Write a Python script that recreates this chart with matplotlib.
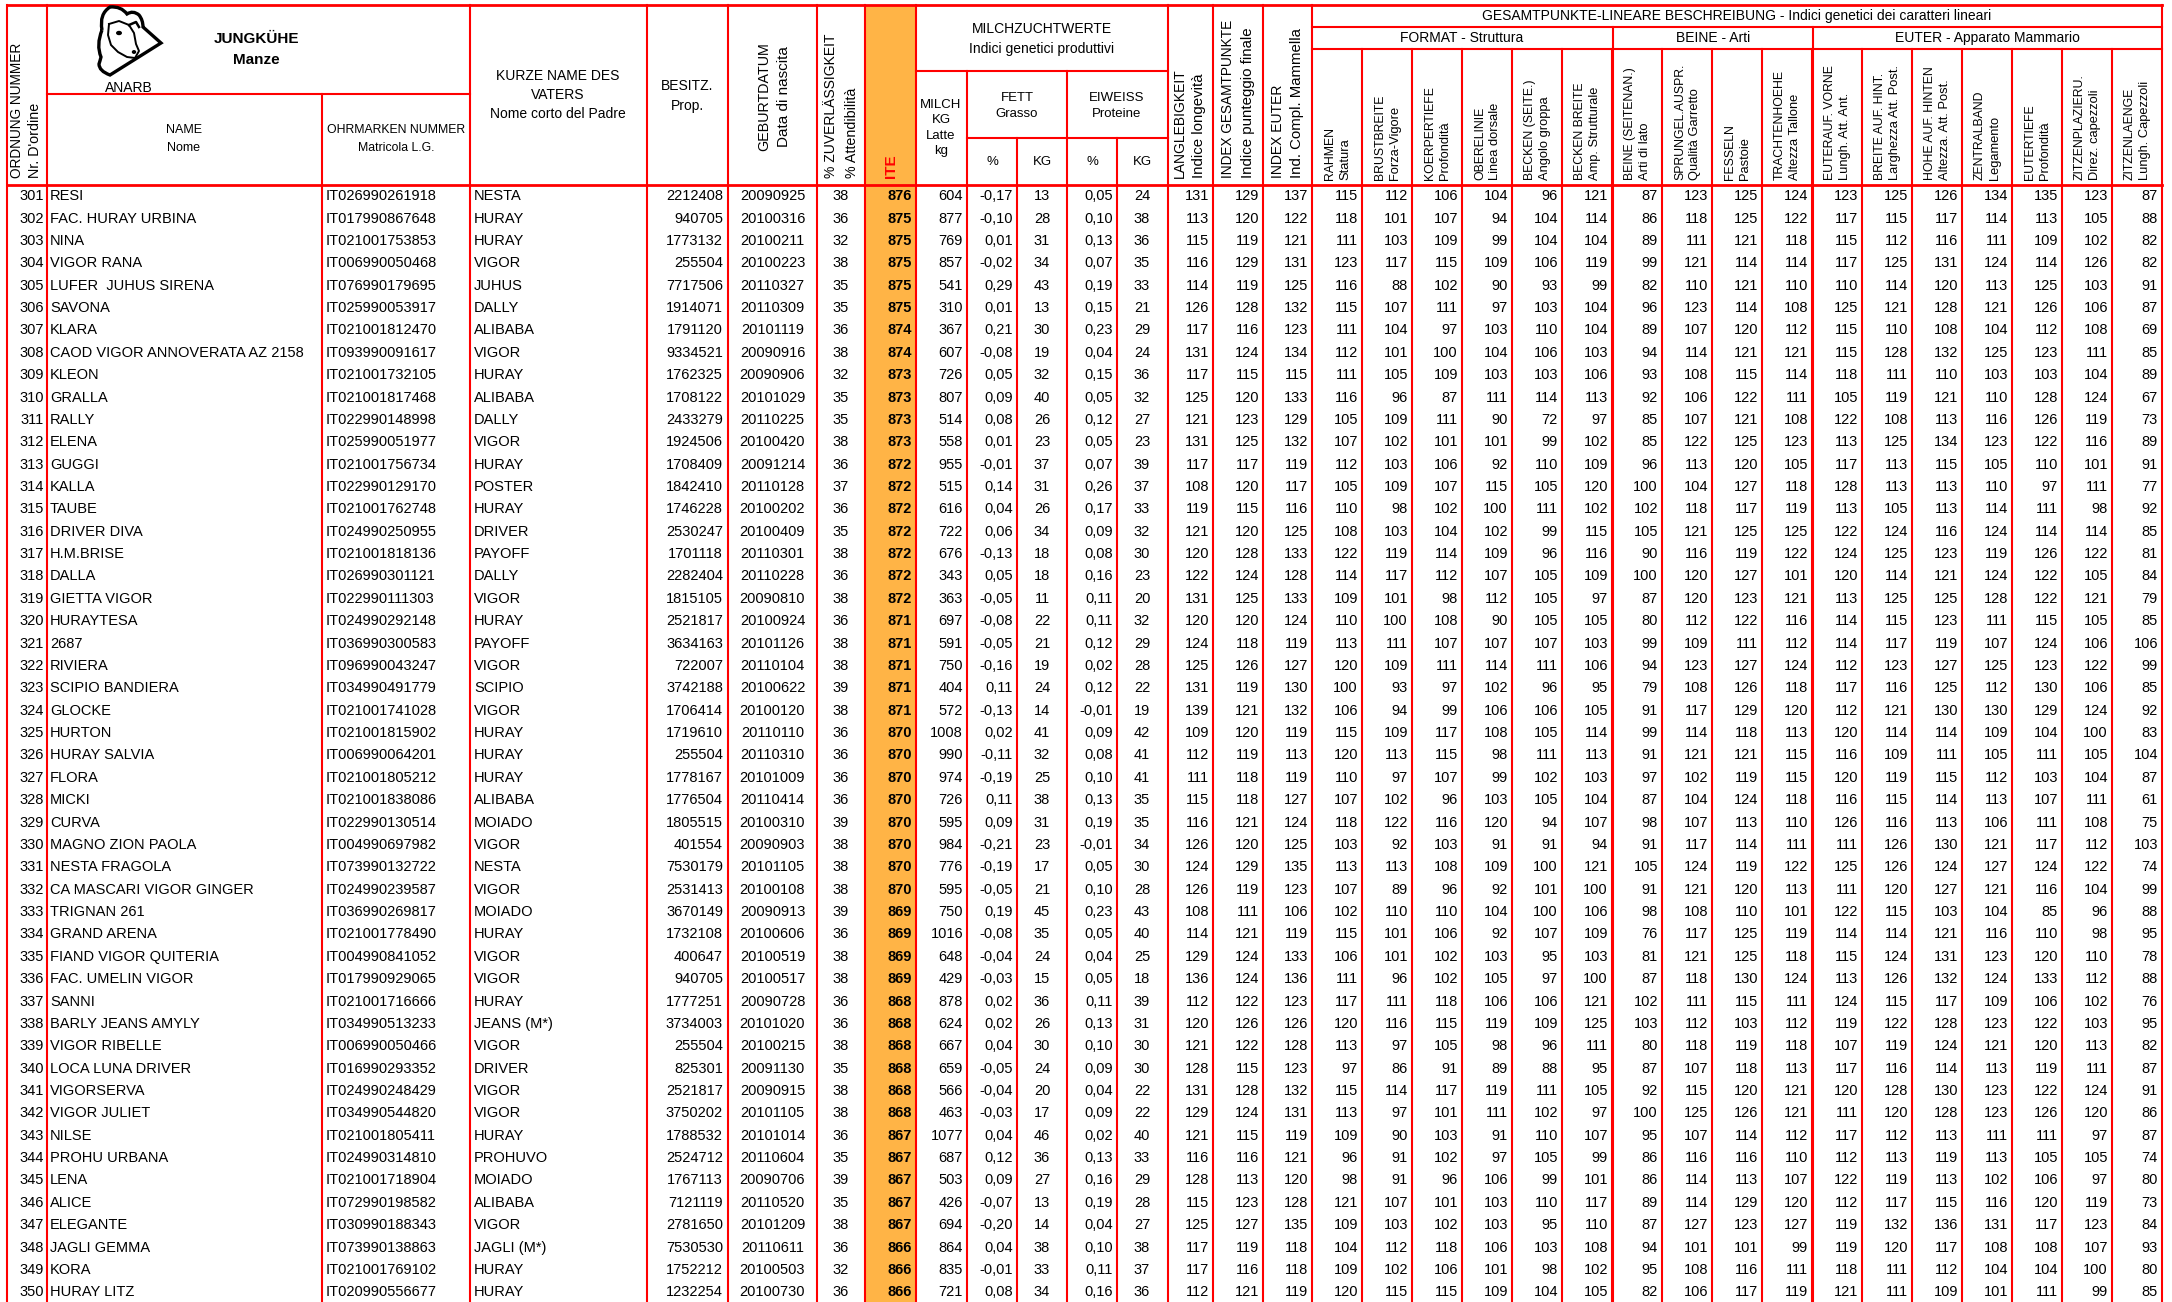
import matplotlib
matplotlib.use('Agg')
import matplotlib.pyplot as plt
from matplotlib.path import Path
from matplotlib.patches import PathPatch, Rectangle, Ellipse

# ---------------- DATA ----------------
order_no = [301, 302, 303, 304, 305, 306, 307, 308, 309, 310,
            311, 312, 313, 314, 315, 316, 317, 318, 319, 320,
            321, 322, 323, 324, 325, 326, 327, 328, 329, 330,
            331, 332, 333, 334, 335, 336, 337, 338, 339, 340,
            341, 342, 343, 344, 345, 346, 347, 348, 349, 350]
names = ["RESI", "FAC. HURAY URBINA", "NINA", "VIGOR RANA", "LUFER  JUHUS SIRENA",
         "SAVONA", "KLARA", "CAOD VIGOR ANNOVERATA AZ 2158", "KLEON", "GRALLA",
         "RALLY", "ELENA", "GUGGI", "KALLA", "TAUBE",
         "DRIVER DIVA", "H.M.BRISE", "DALLA", "GIETTA VIGOR", "HURAYTESA",
         "2687", "RIVIERA", "SCIPIO BANDIERA", "GLOCKE", "HURTON",
         "HURAY SALVIA", "FLORA", "MICKI", "CURVA", "MAGNO ZION PAOLA",
         "NESTA FRAGOLA", "CA MASCARI VIGOR GINGER", "TRIGNAN 261", "GRAND ARENA", "FIAND VIGOR QUITERIA",
         "FAC. UMELIN VIGOR", "SANNI", "BARLY JEANS AMYLY", "VIGOR RIBELLE", "LOCA LUNA DRIVER",
         "VIGORSERVA", "VIGOR JULIET", "NILSE", "PROHU URBANA", "LENA",
         "ALICE", "ELEGANTE", "JAGLI GEMMA", "KORA", "HURAY LITZ"]
ear_tags = ["IT026990261918", "IT017990867648", "IT021001753853", "IT006990050468", "IT076990179695",
            "IT025990053917", "IT021001812470", "IT093990091617", "IT021001732105", "IT021001817468",
            "IT022990148998", "IT025990051977", "IT021001756734", "IT022990129170", "IT021001762748",
            "IT024990250955", "IT021001818136", "IT026990301121", "IT022990111303", "IT024990292148",
            "IT036990300583", "IT096990043247", "IT034990491779", "IT021001741028", "IT021001815902",
            "IT006990064201", "IT021001805212", "IT021001838086", "IT022990130514", "IT004990697982",
            "IT073990132722", "IT024990239587", "IT036990269817", "IT021001778490", "IT004990841052",
            "IT017990929065", "IT021001716666", "IT034990513233", "IT006990050466", "IT016990293352",
            "IT024990248429", "IT034990544820", "IT021001805411", "IT024990314810", "IT021001718904",
            "IT072990198582", "IT030990188343", "IT073990138863", "IT021001769102", "IT020990556677"]
sires = ["NESTA", "HURAY", "HURAY", "VIGOR", "JUHUS", "DALLY", "ALIBABA", "VIGOR", "HURAY", "ALIBABA",
         "DALLY", "VIGOR", "HURAY", "POSTER", "HURAY", "DRIVER", "PAYOFF", "DALLY", "VIGOR", "HURAY",
         "PAYOFF", "VIGOR", "SCIPIO", "VIGOR", "HURAY", "HURAY", "HURAY", "ALIBABA", "MOIADO", "VIGOR",
         "NESTA", "VIGOR", "MOIADO", "HURAY", "VIGOR", "VIGOR", "HURAY", "JEANS (M*)", "VIGOR", "DRIVER",
         "VIGOR", "VIGOR", "HURAY", "PROHUVO", "MOIADO", "ALIBABA", "VIGOR", "JAGLI (M*)", "HURAY", "HURAY"]
owners = [2212408, 940705, 1773132, 255504, 7717506, 1914071, 1791120, 9334521, 1762325, 1708122,
          2433279, 1924506, 1708409, 1842410, 1746228, 2530247, 1701118, 2282404, 1815105, 2521817,
          3634163, 722007, 3742188, 1706414, 1719610, 255504, 1778167, 1776504, 1805515, 401554,
          7530179, 2531413, 3670149, 1732108, 400647, 940705, 1777251, 3734003, 255504, 825301,
          2521817, 3750202, 1788532, 2524712, 1767113, 7121119, 2781650, 7530530, 1752212, 1232254]
birth_dates = ["20090925", "20100316", "20100211", "20100223", "20110327", "20110309", "20101119", "20090916", "20090906", "20101029",
               "20110225", "20100420", "20091214", "20110128", "20100202", "20100409", "20110301", "20110228", "20090810", "20100924",
               "20101126", "20110104", "20100622", "20100120", "20110110", "20110310", "20101009", "20110414", "20100310", "20090903",
               "20101105", "20100108", "20090913", "20100606", "20100519", "20100517", "20090728", "20101020", "20100215", "20091130",
               "20090915", "20101105", "20101014", "20110604", "20090706", "20110520", "20101209", "20110611", "20100503", "20100730"]
reliability = [38, 36, 32, 38, 35, 35, 36, 38, 32, 35,
               35, 38, 36, 37, 36, 35, 38, 36, 38, 36,
               38, 38, 39, 38, 36, 36, 36, 36, 39, 38,
               38, 38, 39, 36, 38, 38, 36, 36, 38, 35,
               38, 38, 36, 35, 39, 35, 38, 36, 32, 36]
ite = [876, 875, 875, 875, 875, 875, 874, 874, 873, 873,
       873, 873, 872, 872, 872, 872, 872, 872, 872, 871,
       871, 871, 871, 871, 870, 870, 870, 870, 870, 870,
       870, 870, 869, 869, 869, 869, 868, 868, 868, 868,
       868, 868, 867, 867, 867, 867, 867, 866, 866, 866]
milk_kg = [604, 877, 769, 857, 541, 310, 367, 607, 726, 807,
           514, 558, 955, 515, 616, 722, 676, 343, 363, 697,
           591, 750, 404, 572, 1008, 990, 974, 726, 595, 984,
           776, 595, 750, 1016, 648, 429, 878, 624, 667, 659,
           566, 463, 1077, 687, 503, 426, 694, 864, 835, 721]
fat_pct = [-0.17, -0.10, 0.01, -0.02, 0.29, 0.01, 0.21, -0.08, 0.05, 0.09,
           0.08, 0.01, -0.01, 0.14, 0.04, 0.06, -0.13, 0.05, -0.05, -0.08,
           -0.05, -0.16, 0.11, -0.13, 0.02, -0.11, -0.19, 0.11, 0.09, -0.21,
           -0.19, -0.05, 0.19, -0.08, -0.04, -0.03, 0.02, 0.02, 0.04, -0.05,
           -0.04, -0.03, 0.04, 0.12, 0.09, -0.07, -0.20, 0.04, -0.01, 0.08]
fat_kg = [13, 28, 31, 34, 43, 13, 30, 19, 32, 40,
          26, 23, 37, 31, 26, 34, 18, 18, 11, 22,
          21, 19, 24, 14, 41, 32, 25, 38, 31, 23,
          17, 21, 45, 35, 24, 15, 36, 26, 30, 24,
          20, 17, 46, 36, 27, 13, 14, 38, 33, 34]
prot_pct = [0.05, 0.10, 0.13, 0.07, 0.19, 0.15, 0.23, 0.04, 0.15, 0.05,
            0.12, 0.05, 0.07, 0.26, 0.17, 0.09, 0.08, 0.16, 0.11, 0.11,
            0.12, 0.02, 0.12, -0.01, 0.09, 0.08, 0.10, 0.13, 0.19, -0.01,
            0.05, 0.10, 0.23, 0.05, 0.04, 0.05, 0.11, 0.13, 0.10, 0.09,
            0.04, 0.09, 0.02, 0.13, 0.16, 0.19, 0.04, 0.10, 0.11, 0.16]
prot_kg = [24, 38, 36, 35, 33, 21, 29, 24, 36, 32,
           27, 23, 39, 37, 33, 32, 30, 23, 20, 32,
           29, 28, 22, 19, 42, 41, 41, 35, 35, 34,
           30, 28, 43, 40, 25, 18, 39, 31, 30, 30,
           22, 22, 40, 33, 29, 28, 27, 38, 37, 36]
longevity = [131, 113, 115, 116, 114, 126, 117, 131, 117, 125,
             121, 131, 117, 108, 119, 121, 120, 122, 131, 120,
             124, 125, 131, 139, 109, 112, 111, 115, 116, 126,
             124, 126, 108, 114, 129, 136, 112, 120, 121, 128,
             131, 129, 121, 116, 128, 115, 125, 117, 117, 112]
final_score = [129, 120, 119, 129, 119, 128, 116, 124, 115, 120,
               123, 125, 117, 120, 115, 120, 128, 124, 125, 120,
               118, 126, 119, 121, 120, 119, 118, 118, 121, 120,
               129, 119, 111, 121, 124, 124, 122, 126, 122, 115,
               128, 124, 115, 116, 113, 123, 127, 119, 116, 121]
udder_index = [137, 122, 121, 131, 125, 132, 123, 134, 115, 133,
               129, 132, 119, 117, 116, 125, 133, 128, 133, 124,
               119, 127, 130, 132, 119, 113, 119, 127, 124, 125,
               135, 123, 106, 119, 133, 136, 123, 126, 128, 123,
               132, 131, 119, 121, 120, 128, 135, 118, 118, 119]
stature = [115, 118, 111, 123, 116, 115, 111, 112, 111, 116,
           105, 107, 112, 105, 110, 108, 122, 114, 109, 110,
           113, 120, 100, 106, 115, 120, 110, 107, 118, 103,
           113, 107, 102, 115, 106, 111, 117, 120, 113, 97,
           115, 113, 109, 96, 98, 121, 109, 104, 109, 120]
strength = [112, 101, 103, 117, 88, 107, 104, 101, 105, 96,
            109, 102, 103, 109, 98, 103, 119, 117, 101, 100,
            111, 109, 93, 94, 109, 113, 97, 102, 122, 92,
            113, 89, 110, 101, 101, 96, 111, 116, 97, 86,
            114, 97, 90, 91, 91, 107, 103, 112, 102, 115]
body_depth = [106, 107, 109, 115, 102, 111, 97, 100, 109, 87,
              111, 101, 106, 107, 102, 104, 114, 112, 98, 108,
              107, 111, 97, 99, 117, 115, 107, 96, 116, 103,
              108, 96, 110, 106, 102, 102, 118, 115, 105, 91,
              117, 101, 103, 102, 96, 101, 102, 118, 106, 115]
top_line = [104, 94, 99, 109, 90, 97, 103, 104, 103, 111,
            90, 101, 92, 115, 100, 102, 109, 107, 112, 90,
            107, 114, 102, 106, 108, 98, 99, 103, 120, 91,
            109, 92, 104, 92, 103, 105, 106, 119, 98, 89,
            119, 111, 91, 97, 106, 103, 103, 106, 101, 109]
rump_angle = [96, 104, 104, 106, 93, 103, 110, 106, 103, 114,
              72, 99, 110, 105, 111, 99, 96, 105, 105, 105,
              107, 111, 96, 106, 105, 111, 102, 105, 94, 91,
              100, 101, 100, 107, 95, 97, 106, 109, 96, 88,
              111, 102, 110, 105, 99, 110, 95, 103, 98, 104]
rump_width = [121, 114, 104, 119, 99, 104, 104, 103, 106, 113,
              97, 102, 109, 120, 102, 115, 116, 109, 97, 105,
              103, 106, 95, 105, 114, 113, 103, 104, 107, 94,
              121, 100, 106, 109, 103, 100, 121, 125, 111, 95,
              105, 97, 107, 99, 101, 117, 110, 108, 102, 105]
legs_side = [87, 86, 89, 99, 82, 96, 89, 94, 93, 92,
             85, 85, 96, 100, 102, 105, 90, 100, 87, 80,
             99, 94, 79, 91, 99, 91, 97, 87, 98, 91,
             105, 91, 98, 76, 81, 87, 102, 103, 80, 87,
             92, 100, 95, 86, 86, 89, 87, 94, 95, 82]
hock_quality = [123, 118, 111, 121, 110, 123, 107, 114, 108, 106,
                107, 122, 113, 104, 118, 121, 116, 120, 120, 112,
                109, 123, 108, 117, 114, 121, 102, 104, 107, 117,
                124, 121, 108, 117, 121, 118, 111, 112, 118, 107,
                115, 125, 107, 116, 114, 114, 127, 101, 108, 106]
pasterns = [125, 125, 121, 114, 121, 114, 120, 121, 115, 122,
            121, 125, 120, 127, 117, 125, 119, 127, 123, 122,
            111, 127, 126, 129, 118, 121, 119, 124, 113, 114,
            119, 120, 110, 125, 125, 130, 115, 103, 119, 118,
            120, 126, 114, 116, 113, 129, 123, 101, 116, 117]
heel_depth = [124, 122, 118, 114, 110, 108, 112, 121, 114, 111,
              108, 123, 105, 118, 119, 125, 122, 101, 121, 116,
              112, 124, 118, 120, 113, 115, 115, 118, 110, 111,
              122, 113, 101, 119, 118, 124, 111, 112, 118, 113,
              121, 121, 112, 110, 107, 120, 127, 99, 111, 119]
fore_attach = [123, 117, 115, 117, 110, 125, 115, 115, 118, 105,
               122, 113, 117, 128, 113, 122, 124, 120, 113, 114,
               114, 112, 117, 112, 120, 116, 120, 116, 126, 111,
               125, 111, 122, 114, 115, 113, 124, 119, 107, 117,
               120, 111, 117, 112, 122, 112, 119, 119, 118, 121]
rear_width = [125, 115, 112, 125, 114, 121, 110, 128, 111, 119,
              108, 125, 113, 113, 105, 124, 125, 114, 125, 115,
              117, 123, 116, 121, 114, 109, 119, 115, 116, 126,
              126, 120, 115, 114, 124, 126, 115, 122, 119, 116,
              128, 120, 112, 113, 119, 117, 132, 120, 111, 111]
rear_height = [126, 117, 116, 131, 120, 128, 108, 132, 110, 121,
               113, 134, 115, 113, 113, 116, 123, 121, 125, 123,
               119, 127, 125, 130, 114, 111, 115, 114, 113, 130,
               124, 127, 103, 121, 131, 132, 117, 128, 124, 114,
               130, 128, 113, 119, 113, 115, 136, 117, 112, 109]
ligament = [134, 114, 111, 124, 113, 121, 104, 125, 103, 110,
            116, 123, 105, 110, 114, 124, 119, 124, 128, 111,
            107, 125, 112, 130, 109, 105, 112, 113, 106, 121,
            127, 121, 104, 116, 123, 124, 109, 123, 121, 113,
            123, 123, 111, 113, 102, 116, 131, 108, 104, 101]
udder_depth = [135, 113, 109, 114, 125, 126, 112, 123, 103, 128,
               126, 122, 110, 97, 111, 114, 126, 122, 122, 115,
               124, 123, 130, 129, 104, 111, 103, 107, 111, 117,
               124, 116, 85, 110, 120, 133, 106, 122, 120, 119,
               122, 126, 111, 105, 106, 120, 117, 108, 104, 111]
teat_place = [123, 105, 102, 126, 103, 106, 108, 111, 104, 124,
              119, 116, 101, 111, 98, 114, 122, 105, 121, 105,
              106, 122, 106, 124, 100, 105, 104, 111, 108, 112,
              122, 104, 96, 98, 110, 112, 102, 103, 113, 111,
              124, 120, 97, 105, 97, 119, 123, 107, 100, 99]
teat_length = [87, 88, 82, 82, 91, 87, 69, 85, 89, 67,
               73, 89, 91, 77, 92, 85, 81, 84, 79, 85,
               106, 99, 85, 92, 83, 104, 87, 61, 75, 103,
               74, 99, 88, 95, 78, 88, 76, 95, 82, 87,
               91, 86, 87, 74, 80, 73, 84, 93, 80, 85]

linear_headers = [("RAHMEN", "Statura"), ("BRUSTBREITE", "Forza-Vigore"),
                  ("KOERPERTIEFE", "Profondità"), ("OBERELINIE", "Linea dorsale"),
                  ("BECKEN (SEITE.)", "Angolo groppa"), ("BECKEN BREITE", "Amp. Strutturale"),
                  ("BEINE (SEITENAN.)", "Arti di lato"), ("SPRUNGEL.AUSPR.", "Qualità Garretto"),
                  ("FESSELN", "Pastoie"), ("TRACHTENHOEHE", "Altezza Tallone"),
                  ("EUTERAUF. VORNE", "Lungh. Att. Ant."), ("BREITE AUF. HINT.", "Larghezza Att. Post."),
                  ("HOHE AUF. HINTEN", "Altezza. Att. Post."), ("ZENTRALBAND", "Legamento"),
                  ("EUTERTIEFE", "Profondità"), ("ZITZENPLAZIERU.", "Direz. capezzoli"),
                  ("ZITZENLAENGE", "Lungh. Capezzoli")]
linear_values = [stature, strength, body_depth, top_line, rump_angle, rump_width,
                 legs_side, hock_quality, pasterns, heel_depth,
                 fore_attach, rear_width, rear_height, ligament, udder_depth,
                 teat_place, teat_length]

# ---------------- LAYOUT ----------------
W, H = 2172, 1302
FONT = ['Liberation Sans', 'DejaVu Sans']
RED = '#FF0000'
ORANGE = '#FFB446'
LW = 1.5
plt.rcParams['font.family'] = FONT

fig = plt.figure(figsize=(W / 100, H / 100), dpi=100)
ax = fig.add_axes([0, 0, 1, 1])
ax.set_xlim(0, W)
ax.set_ylim(H, 0)
ax.axis('off')

TOP, HB = 5, 185
PITCH = 22.37
n = len(order_no)
BOTTOM = HB + n * PITCH + 2
LIN0, LINW = 1312, 50
lin_edges = [LIN0 + LINW * k for k in range(len(linear_values) + 1)]

# ITE column fill
ax.add_patch(Rectangle((865, TOP), 916 - 865, BOTTOM - TOP, facecolor=ORANGE,
                       edgecolor='none', zorder=0))


def vline(x, y0, y1, lw=LW):
    ax.plot([x, x], [y0, y1], color=RED, lw=lw, solid_capstyle='projecting', zorder=3)


def hline(y, x0, x1, lw=LW):
    ax.plot([x0, x1], [y, y], color=RED, lw=lw, solid_capstyle='projecting', zorder=3)


for x in [7, 47, 470, 647, 728, 817, 865, 916, 1168, 1213, 1263, 1312, 2162]:
    vline(x, TOP, BOTTOM)
vline(322, 94, BOTTOM)
for x in [967, 1067]:
    vline(x, 71, BOTTOM)
for x in [1017, 1117]:
    vline(x, 138, BOTTOM)
for x in [1613, 1813]:
    vline(x, 27, BOTTOM)
for x in lin_edges[1:-1]:
    vline(x, 49, BOTTOM)
hline(TOP, 7, 2162, lw=2.0)
hline(HB, 7, 2162, lw=2.0)
hline(94, 47, 470)
hline(71, 916, 1168)
hline(138, 967, 1168)
hline(27, 1312, 2162)
hline(49, 1312, 2162)


# ---------------- HEADER TEXT ----------------
def htext(x, y, s, size=10, **kw):
    ax.text(x, y, s, fontsize=size, ha='center', va='center', multialignment='center',
            color='black', zorder=4, **kw)


def rtext(x, y, s, size=9, ha='left', **kw):
    ax.text(x, y, s, fontsize=size, rotation=90, rotation_mode='anchor', ha=ha,
            va='center', zorder=4, **kw)


# logo (stylised ANARB cow head inside a heart)
verts = [(102, 30),
         (99, 14), (110, 7),
         (121, 6), (127, 14),
         (133, 10), (139, 15),
         (143, 20), (143, 27),
         (161, 43),
         (110, 75),
         (99, 71), (99, 64),
         (100, 61), (101, 57),
         (96, 45), (102, 30)]
codes = [Path.MOVETO,
         Path.CURVE3, Path.CURVE3,
         Path.CURVE3, Path.CURVE3,
         Path.CURVE3, Path.CURVE3,
         Path.CURVE3, Path.CURVE3,
         Path.LINETO,
         Path.LINETO,
         Path.CURVE3, Path.CURVE3,
         Path.CURVE3, Path.CURVE3,
         Path.CURVE3, Path.CURVE3]
ax.add_patch(PathPatch(Path(verts, codes), facecolor='none', edgecolor='black',
                       lw=2.4, zorder=4))
face = [(109, 24), (119, 21), (129, 25), (134, 33), (136, 44), (139, 51), (135, 58),
        (127, 57), (118, 52), (111, 45), (108, 35), (109, 24)]
ax.plot([p[0] for p in face], [p[1] for p in face], color='black', lw=1.4, zorder=4)
ax.plot([129, 136, 139], [25, 22, 27], color='black', lw=1.8, zorder=4)
ax.add_patch(Ellipse((119, 33), 4.5, 3, color='black', zorder=4))
ax.add_patch(Ellipse((134, 52), 3, 2.5, color='black', zorder=4))
ax.text(129, 87.5, "ANARB", fontsize=10, ha='center', va='center', zorder=4)

htext(256, 39, "JUNGKÜHE", size=11, fontweight='bold')
htext(256, 60, "Manze", size=11, fontweight='bold')
htext(184, 139, "NAME\nNome", size=9, linespacing=1.6)
htext(396, 139, "OHRMARKEN NUMMER\nMatricola L.G.", size=8.8, linespacing=1.65)
htext(558, 95, "KURZE NAME DES\nVATERS\nNome corto del Padre", size=10, linespacing=1.5)
htext(687, 96, "BESITZ.\nProp.", size=10, linespacing=1.5)
htext(1042, 39, "MILCHZUCHTWERTE\nIndici genetici produttivi", size=10, linespacing=1.55)
htext(941, 128, "MILCH\nKG\nLatte\nkg", size=9.5, linespacing=1.4)
htext(1017, 106, "FETT\nGrasso", size=9.5, linespacing=1.4)
htext(1117, 106, "EIWEISS\nProteine", size=9.5, linespacing=1.4)
for x, s in [(992, "%"), (1042, "KG"), (1092, "%"), (1142, "KG")]:
    htext(x, 162, s, size=9.5)
htext(1737, 16, "GESAMTPUNKTE-LINEARE BESCHREIBUNG - Indici genetici dei caratteri lineari", size=10)
htext(1462, 38, "FORMAT - Struttura", size=10)
htext(1713, 38, "BEINE - Arti", size=10)
htext(1987, 38, "EUTER - Apparato Mammario", size=10)

# rotated two-line headers: (x line1, x line2, bottom y, text1, size1, text2, size2)
rot_headers = [
    (17, 35, 178, "ORDNUNG NUMMER", 9.8, "Nr. D'ordine", 10.3),
    (831, 852, 178, "% ZUVERLÄSSIGKEIT", 10.0, "% Attendibilità", 10.3),
    (1180, 1199, 178, "LANGLEBIGKEIT", 10.0, "Indice longevità", 10.8),
    (1228, 1248, 178, "INDEX GESAMTPUNKTE", 9.8, "Indice punteggio finale", 10.8),
    (1278, 1297, 178, "INDEX EUTER", 10.0, "Ind. Compl. Mammella", 10.8),
]
for x1, x2, yb, t1, s1, t2, s2 in rot_headers:
    rtext(x1, yb, t1, size=s1)
    rtext(x2, yb, t2, size=s2)
rtext(764, 97, "GEBURTDATUM", size=10.3, ha='center')
rtext(784, 97, "Data di nascita", size=11, ha='center')
rtext(891, 178, "ITE", size=11, color=RED, fontweight='bold')
for k, (l1, l2) in enumerate(linear_headers):
    rtext(lin_edges[k] + 18, 180, l1, size=8.8)
    rtext(lin_edges[k] + 33, 180, l2, size=9.3)

# ---------------- BODY ----------------
def fmt_pct(v):
    return f"{v:.2f}".replace('.', ',')


columns = [
    ([str(v) for v in order_no], 44, 'right', 'normal'),
    (names, 50, 'left', 'normal'),
    (ear_tags, 326, 'left', 'normal'),
    (sires, 474, 'left', 'normal'),
    ([str(v) for v in owners], 723, 'right', 'normal'),
    (birth_dates, 772.5, 'center', 'normal'),
    ([str(v) for v in reliability], 841, 'center', 'normal'),
    ([str(v) for v in ite], 912, 'right', 'bold'),
    ([str(v) for v in milk_kg], 963, 'right', 'normal'),
    ([fmt_pct(v) for v in fat_pct], 1013, 'right', 'normal'),
    ([str(v) for v in fat_kg], 1042, 'center', 'normal'),
    ([fmt_pct(v) for v in prot_pct], 1113, 'right', 'normal'),
    ([str(v) for v in prot_kg], 1142, 'center', 'normal'),
    ([str(v) for v in longevity], 1209, 'right', 'normal'),
    ([str(v) for v in final_score], 1259, 'right', 'normal'),
    ([str(v) for v in udder_index], 1308, 'right', 'normal'),
]
for k, vals in enumerate(linear_values):
    columns.append(([str(v) for v in vals], lin_edges[k + 1] - 4, 'right', 'normal'))

for vals, x, ha, weight in columns:
    for i, s in enumerate(vals):
        y = HB + (i + 0.5) * PITCH
        ax.text(x, y, s, fontsize=10.5, ha=ha, va='center', fontweight=weight,
                color='black', zorder=4)

fig.savefig('out.png', dpi=100, facecolor='white')
